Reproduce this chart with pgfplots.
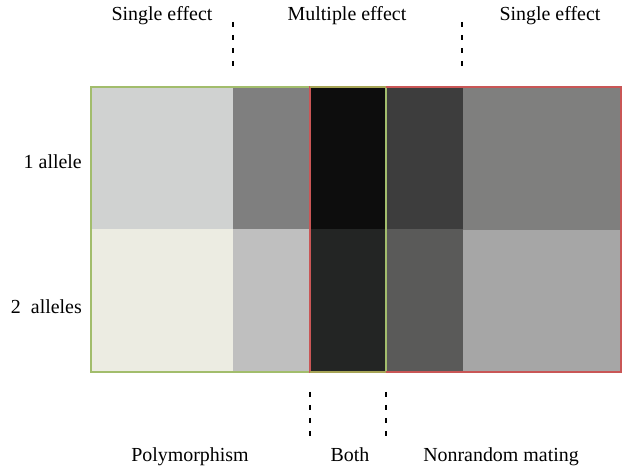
\documentclass[border=0pt]{standalone}
\usepackage{pgfplots}
\pgfplotsset{compat=1.18}
\usepackage{fontspec}
\setmainfont{Liberation Serif}

\definecolor{aA}{HTML}{D0D2D1}
\definecolor{aB}{HTML}{7F7F7F}
\definecolor{aC}{HTML}{0D0D0D}
\definecolor{aD}{HTML}{3D3D3D}
\definecolor{aE}{HTML}{7F7F7E}
\definecolor{bA}{HTML}{ECECE2}
\definecolor{bB}{HTML}{BFBFBF}
\definecolor{bC}{HTML}{232524}
\definecolor{bD}{HTML}{5A5A59}
\definecolor{bE}{HTML}{A6A6A6}
\definecolor{boxgreen}{HTML}{A2BD6C}
\definecolor{boxred}{HTML}{C95656}
\definecolor{boxolive}{HTML}{A6A456}

\tikzset{lbl/.style={font=\fontsize{20}{24}\selectfont}}

\begin{document}
\begin{tikzpicture}
\begin{axis}[
    width=628bp, height=467bp, scale only axis,
    xmin=0, xmax=628, ymin=0, ymax=467,
    hide axis, clip=false,
]
\path (axis cs:0,0) rectangle (axis cs:628,467);

% row "1 allele"
\addplot[fill=aA, draw=none] coordinates {(91,238) (233,238) (233,380) (91,380)} -- cycle;
\addplot[fill=aB, draw=none] coordinates {(233,238) (310,238) (310,380) (233,380)} -- cycle;
\addplot[fill=aC, draw=none] coordinates {(310,238) (386,238) (386,380) (310,380)} -- cycle;
\addplot[fill=aD, draw=none] coordinates {(386,238) (463,238) (463,380) (386,380)} -- cycle;
\addplot[fill=aE, draw=none] coordinates {(463,236.5) (621,236.5) (621,380) (463,380)} -- cycle;
% row "2 alleles"
\addplot[fill=bA, draw=none] coordinates {(91,95) (233,95) (233,238) (91,238)} -- cycle;
\addplot[fill=bB, draw=none] coordinates {(233,95) (310,95) (310,238) (233,238)} -- cycle;
\addplot[fill=bC, draw=none] coordinates {(310,95) (386,95) (386,238) (310,238)} -- cycle;
\addplot[fill=bD, draw=none] coordinates {(386,95) (463,95) (463,238) (386,238)} -- cycle;
\addplot[fill=bE, draw=none] coordinates {(463,95) (621,95) (621,236.5) (463,236.5)} -- cycle;

% group frames
\addplot[boxgreen, line width=1.4bp] coordinates {(91,95) (386,95) (386,380) (91,380)} -- cycle;
\addplot[boxred, line width=1.4bp] coordinates {(310,95) (621,95) (621,380) (310,380)} -- cycle;
\addplot[boxolive, line width=1.4bp] coordinates {(310,380) (386,380)};
\addplot[boxolive, line width=1.4bp] coordinates {(310,95) (386,95)};

% dashed separators
\addplot[black, line width=1.3bp, dash pattern=on 5bp off 8bp] coordinates {(233,445) (233,401)};
\addplot[black, line width=1.3bp, dash pattern=on 5bp off 8bp] coordinates {(462,445) (462,401)};
\addplot[black, line width=1.3bp, dash pattern=on 5bp off 8bp] coordinates {(310,75) (310,31)};
\addplot[black, line width=1.3bp, dash pattern=on 5bp off 8bp] coordinates {(386,75) (386,31)};

% labels
\node[lbl, anchor=base] at (axis cs:162,446) {Single effect};
\node[lbl, anchor=base] at (axis cs:347,446) {Multiple effect};
\node[lbl, anchor=base] at (axis cs:550,446) {Single effect};
\node[lbl, anchor=base] at (axis cs:190,5) {Polymorphism};
\node[lbl, anchor=base] at (axis cs:350,5) {Both};
\node[lbl, anchor=base] at (axis cs:501,5) {Nonrandom mating};
\node[lbl, anchor=base east, inner xsep=0pt] at (axis cs:82,298) {1 allele};
\node[lbl, anchor=base east, inner xsep=0pt] at (axis cs:82,153) {2~~alleles};
\end{axis}
\end{tikzpicture}
\end{document}
